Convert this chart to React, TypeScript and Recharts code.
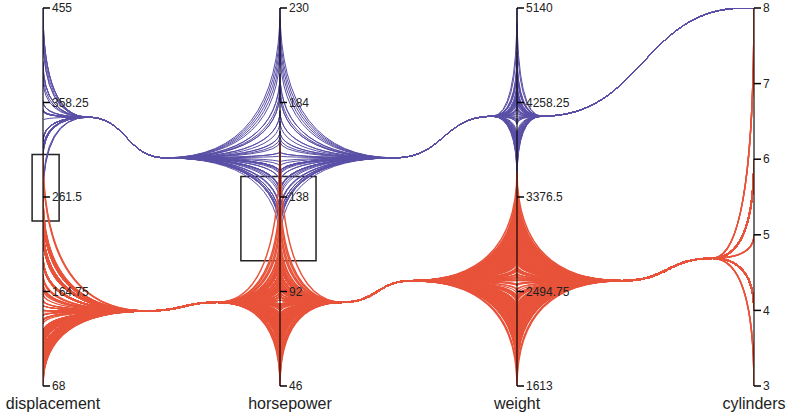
import React from 'react';
import { ComposedChart, Line, XAxis, YAxis, ReferenceLine, ReferenceDot, ReferenceArea } from 'recharts';

// one vertical axis per dimension
const dimensions = ['displacement', 'horsepower', 'weight', 'cylinders'];
const domains: [number, number][] = [[68, 455], [46, 230], [1613, 5140], [3, 8]];
const tickValues = [
  [68, 164.75, 261.5, 358.25, 455],
  [46, 92, 138, 184, 230],
  [1613, 2494.75, 3376.5, 4258.25, 5140],
  [3, 4, 5, 6, 7, 8],
];

// cluster 1: big engines
const heavyDisplacement = [
  307, 350, 318, 304, 302, 429, 454, 440, 455, 390,
  383, 340, 305, 350, 350, 351, 318, 304, 302, 429,
  350, 350, 318, 262, 360, 307, 318, 318, 302, 304,
  400, 351, 318, 318, 455, 360, 350, 400, 304, 302,
  318, 351, 400, 260, 305, 305, 318, 350, 360, 267,
];
const heavyHorsepower = [
  230, 225, 220, 215, 210, 198, 190, 198, 193, 190,
  180, 180, 175, 170, 170, 167, 165, 160, 160, 158,
  155, 153, 150, 150, 150, 150, 150, 149, 148, 145,
  145, 140, 140, 140, 140, 139, 137, 135, 130, 130,
  129, 125, 125, 120, 120, 115, 120, 122, 122, 125,
];
const heavyWeight = [
  5140, 4997, 3560, 3530, 3620, 4732, 4699, 4664, 4633, 4615,
  4499, 4457, 4440, 4425, 4382, 4380, 4363, 4354, 4341, 4312,
  4294, 4278, 4237, 4215, 4209, 4190, 4165, 4154, 4129, 4100,
  4098, 4082, 4060, 4054, 3940, 3897, 3892, 3880, 3840, 3821,
  3785, 3761, 3755, 3730, 3693, 3664, 3645, 3620, 3609, 3570,
];
const heavyCylinders = [
  8, 8, 8, 8, 8, 8, 8, 8, 8, 8,
  8, 8, 8, 8, 8, 8, 8, 8, 8, 8,
  8, 8, 8, 8, 8, 8, 8, 8, 8, 8,
  8, 8, 8, 8, 8, 8, 8, 8, 8, 8,
  8, 8, 8, 8, 8, 8, 8, 8, 8, 8,
];

// cluster 2: small and mid-size engines (129 fours, 61 sixes, then 5/3/8 cylinder cars)
const lightDisplacement = [
  97, 98, 90, 91, 85, 79, 89, 86, 68, 71,
  72, 76, 78, 79, 81, 83, 88, 97, 98, 105,
  107, 108, 112, 113, 116, 119, 120, 121, 122, 134,
  135, 140, 151, 156, 146, 144, 141, 98, 97, 91,
  97, 97, 113, 121, 140, 122, 116, 120, 98, 97,
  140, 151, 151, 151, 105, 91, 85, 89, 119, 107,
  97, 120, 98, 119, 108, 112, 135, 156, 140, 134,
  90, 97, 98, 96, 79, 83, 91, 105, 121, 151,
  85, 89, 86, 91, 97, 98, 107, 108, 122,
  97, 98, 91, 89, 85, 86, 90, 97, 98, 105,
  107, 108, 112, 119, 120, 121, 122, 134, 140, 151,
  97, 98, 91, 90, 79, 85, 89, 97, 105, 113,
  116, 119, 120, 122, 135, 140, 151, 98, 97, 91,
  198, 199, 200, 225, 232, 250, 258, 231, 250, 225,
  200, 232, 225, 250, 258, 171, 173, 146, 156, 168,
  181, 145, 163, 200, 225, 231, 232, 250, 258, 225,
  200, 199, 232, 225, 250, 231, 200, 225, 173, 258, 232,
  225, 250, 232, 200, 258, 231, 225, 250, 232, 200,
  199, 225, 250, 258, 231, 232, 200, 225, 173, 181,
  121, 183, 131, 70, 70, 80, 260, 262, 302, 305,
];
const lightHorsepower = [
  88, 95, 70, 70, 52, 58, 60, 49, 65, 65,
  61, 52, 67, 67, 58, 60, 70, 75, 80, 74,
  75, 86, 90, 85, 75, 95, 97, 110, 112, 92,
  110, 90, 85, 110, 115, 96, 89, 66, 78, 53,
  67, 46, 83, 98, 92, 88, 95, 72, 68, 75,
  86, 84, 90, 88, 76, 67, 65, 71, 115, 75,
  60, 75, 63, 110, 94, 85, 84, 86, 72, 90,
  48, 78, 66, 79, 58, 63, 69, 65, 115, 88,
  70, 60, 65, 60, 78, 68, 75, 70, 92,
  67, 75, 70, 60, 65, 70, 75, 88, 95, 74,
  80, 86, 90, 95, 97, 88, 86, 92, 84, 90,
  53, 52, 58, 48, 65, 70, 60, 67, 75, 83,
  85, 78, 88, 96, 110, 92, 85, 71, 78, 68,
  95, 97, 85, 105, 100, 100, 110, 110, 88, 105,
  90, 100, 100, 105, 95, 97, 122, 82, 120, 133,
  110, 115, 100, 85, 90, 105, 90, 100, 95, 105,
  88, 95, 100, 110, 100, 105, 85, 100, 110, 110, 165,
  100, 105, 110, 90, 95, 85, 100, 110, 105, 88,
  97, 100, 115, 120, 95, 105, 100, 90, 110, 145,
  77, 103, 67, 97, 110, 100, 110, 110, 129, 140,
];
const lightWeight = [
  2130, 2164, 2125, 2046, 1940, 1825, 1965, 1975, 1613, 1773,
  1649, 1755, 1985, 2065, 1755, 1760, 2050, 2265, 2155, 2200,
  2310, 2395, 2545, 2640, 2300, 2600, 2702, 2660, 2950, 2700,
  2835, 2670, 2735, 2910, 2800, 2720, 2711, 1800, 2040, 2025,
  2190, 1835, 2234, 2945, 2870, 2565, 2265, 2420, 2120, 1990,
  2905, 3000, 2875, 2790, 2380, 1970, 2020, 2050, 2625, 2430,
  2188, 2556, 2130, 2600, 2434, 2470, 2385, 2620, 2890, 2560,
  1850, 2145, 2045, 1990, 1845, 1940, 2230, 2200, 2670, 2735,
  2070, 1800, 1980, 2110, 2050, 2025, 2395, 2150, 2300,
  2100, 2250, 1950, 2000, 2075, 1985, 2150, 2300, 2400, 2290,
  2380, 2500, 2600, 2720, 2560, 2670, 2800, 2900, 2950, 2550,
  1800, 1795, 1900, 1850, 2020, 2160, 2050, 2125, 2265, 2335,
  2420, 2510, 2635, 2740, 2815, 2890, 3015, 2230, 2190, 2065,
  2774, 2833, 2587, 3282, 3139, 3302, 3288, 3039, 3278, 3085,
  2648, 2634, 3121, 3353, 3233, 3211, 3445, 2615, 2795, 3003,
  2900, 3190, 2910, 3060, 3410, 3158, 2930, 3360, 3620, 3085,
  3465, 2945, 3012, 2962, 3535, 3415, 2835, 3245, 3150, 3380, 3381,
  3100, 3230, 2990, 3270, 3440, 2860, 3020, 3150, 3330, 2700,
  2890, 3060, 3190, 3300, 2930, 3410, 3520, 3110, 2980, 3250,
  2950, 3530, 3190, 2330, 2720, 2420, 3365, 3221, 3420, 3425,
];
const lightCylinders = [
  4, 4, 4, 4, 4, 4, 4, 4, 4, 4,
  4, 4, 4, 4, 4, 4, 4, 4, 4, 4,
  4, 4, 4, 4, 4, 4, 4, 4, 4, 4,
  4, 4, 4, 4, 4, 4, 4, 4, 4, 4,
  4, 4, 4, 4, 4, 4, 4, 4, 4, 4,
  4, 4, 4, 4, 4, 4, 4, 4, 4, 4,
  4, 4, 4, 4, 4, 4, 4, 4, 4, 4,
  4, 4, 4, 4, 4, 4, 4, 4, 4, 4,
  4, 4, 4, 4, 4, 4, 4, 4, 4,
  4, 4, 4, 4, 4, 4, 4, 4, 4, 4,
  4, 4, 4, 4, 4, 4, 4, 4, 4, 4,
  4, 4, 4, 4, 4, 4, 4, 4, 4, 4,
  4, 4, 4, 4, 4, 4, 4, 4, 4, 4,
  6, 6, 6, 6, 6, 6, 6, 6, 6, 6,
  6, 6, 6, 6, 6, 6, 6, 6, 6, 6,
  6, 6, 6, 6, 6, 6, 6, 6, 6, 6,
  6, 6, 6, 6, 6, 6, 6, 6, 6, 6, 6,
  6, 6, 6, 6, 6, 6, 6, 6, 6, 6,
  6, 6, 6, 6, 6, 6, 6, 6, 6, 6,
  5, 5, 5, 3, 3, 3, 8, 8, 8, 8,
];

// brushed ranges on the first two axes
const brushes = [
  { dim: 0, from: 237, to: 305 },
  { dim: 1, from: 107, to: 148 },
];

const clusters = [
  {
    name: 'heavy',
    color: '#5a4fa6',
    width: 1,
    columns: [heavyDisplacement, heavyHorsepower, heavyWeight, heavyCylinders],
    // how far the bundle knot sits from each axis (in axis spacings)
    spread: [0.19, 0.485, 0.105, 0.04],
  },
  {
    name: 'light',
    color: '#e8533a',
    width: 1.5,
    columns: [lightDisplacement, lightHorsepower, lightWeight, lightCylinders],
    spread: [0.44, 0.265, 0.445, 0.175],
  },
];

const brushBox = [
  [-0.046, 0.068],
  [-0.165, 0.152],
];
const titleShift = [10, 10, 0, 0];
const font = '"Liberation Sans", Arial, Helvetica, sans-serif';

const norm = (v: number, d: number) => (v - domains[d][0]) / (domains[d][1] - domains[d][0]);
const mean = (a: number[]) => a.reduce((s, v) => s + v, 0) / a.length;

// point order per record: axis, out-knot, in-knot, axis, ...
function buildPaths(c: typeof clusters[number]) {
  const centers = c.columns.map((col, d) => norm(mean(col), d));
  const n = c.columns[0].length;
  const paths: { x: number; y: number }[][] = [];
  for (let r = 0; r < n; r++) {
    const pts: { x: number; y: number }[] = [];
    for (let d = 0; d < dimensions.length; d++) {
      if (d > 0) pts.push({ x: d - c.spread[d], y: centers[d] });
      pts.push({ x: d, y: norm(c.columns[d][r], d) });
      if (d < dimensions.length - 1) pts.push({ x: d + c.spread[d], y: centers[d] });
    }
    paths.push(pts);
  }
  return paths;
}

// d3-style curve: fans out of each axis into a knot, S-curve between knots
const bundleCurve = (context: any) => {
  let pts: [number, number][] = [];
  return {
    areaStart() {},
    areaEnd() {},
    lineStart() {
      pts = [];
    },
    point(x: number, y: number) {
      pts.push([+x, +y]);
    },
    lineEnd() {
      if (!pts.length) return;
      context.moveTo(pts[0][0], pts[0][1]);
      for (let i = 1; i < pts.length; i++) {
        const [x0, y0] = pts[i - 1];
        const [x1, y1] = pts[i];
        const kind = (i - 1) % 3;
        if (kind === 0) {
          context.quadraticCurveTo(x0, y1, x1, y1);
        } else if (kind === 1) {
          const mx = (x0 + x1) / 2;
          context.bezierCurveTo(mx, y0, mx, y1, x1, y1);
        } else {
          context.quadraticCurveTo(x1, y0, x1, y1);
        }
      }
    },
  };
};

const App = () => {
  return (
    <div style={{ position: 'absolute', left: 0, top: 0 }}>
      <ComposedChart width={790} height={419} margin={{ top: 8, right: 36, bottom: 33, left: 43 }}>
        <XAxis type="number" dataKey="x" domain={[0, 3]} hide allowDataOverflow />
        <YAxis type="number" domain={[0, 1]} hide allowDataOverflow />
        {clusters.map((c) =>
          buildPaths(c).map((p, i) => (
            <Line
              key={`${c.name}-${i}`}
              data={p}
              dataKey="y"
              type={bundleCurve as any}
              stroke={c.color}
              strokeWidth={c.width}
              dot={false}
              activeDot={false}
              isAnimationActive={false}
            />
          ))
        )}
        {dimensions.map((name, d) => (
          <ReferenceLine
            key={`axis-${name}`}
            segment={[{ x: d, y: 0 }, { x: d, y: 1 }]}
            stroke="#000"
            strokeOpacity={0.75}
            strokeWidth={1.5}
          />
        ))}
        {tickValues.map((ticks, d) =>
          ticks.map((t) => (
            <ReferenceDot
              key={`tick-${d}-${t}`}
              x={d}
              y={norm(t, d)}
              r={0}
              shape={(p: any) => (
                <g>
                  <line x1={p.cx} x2={p.cx + 7} y1={p.cy} y2={p.cy} stroke="#000" strokeWidth={1.5} />
                  <text x={p.cx + 9} y={p.cy} dy="0.35em" fontSize={12} fontFamily={font} fill="#222">
                    {t}
                  </text>
                </g>
              )}
            />
          ))
        )}
        {dimensions.map((name, d) => (
          <ReferenceDot
            key={`title-${name}`}
            x={d}
            y={0}
            r={0}
            shape={(p: any) => (
              <text x={p.cx + titleShift[d]} y={p.cy + 23} textAnchor="middle" fontSize={16} fontFamily={font} fill="#222">
                {name}
              </text>
            )}
          />
        ))}
        {brushes.map((b, i) => (
          <ReferenceArea
            key={`brush-${i}`}
            x1={b.dim + brushBox[i][0]}
            x2={b.dim + brushBox[i][1]}
            y1={norm(b.from, b.dim)}
            y2={norm(b.to, b.dim)}
            fill="none"
            stroke="#222"
            strokeWidth={1.5}
            ifOverflow="visible"
          />
        ))}
      </ComposedChart>
    </div>
  );
};

export default App;
